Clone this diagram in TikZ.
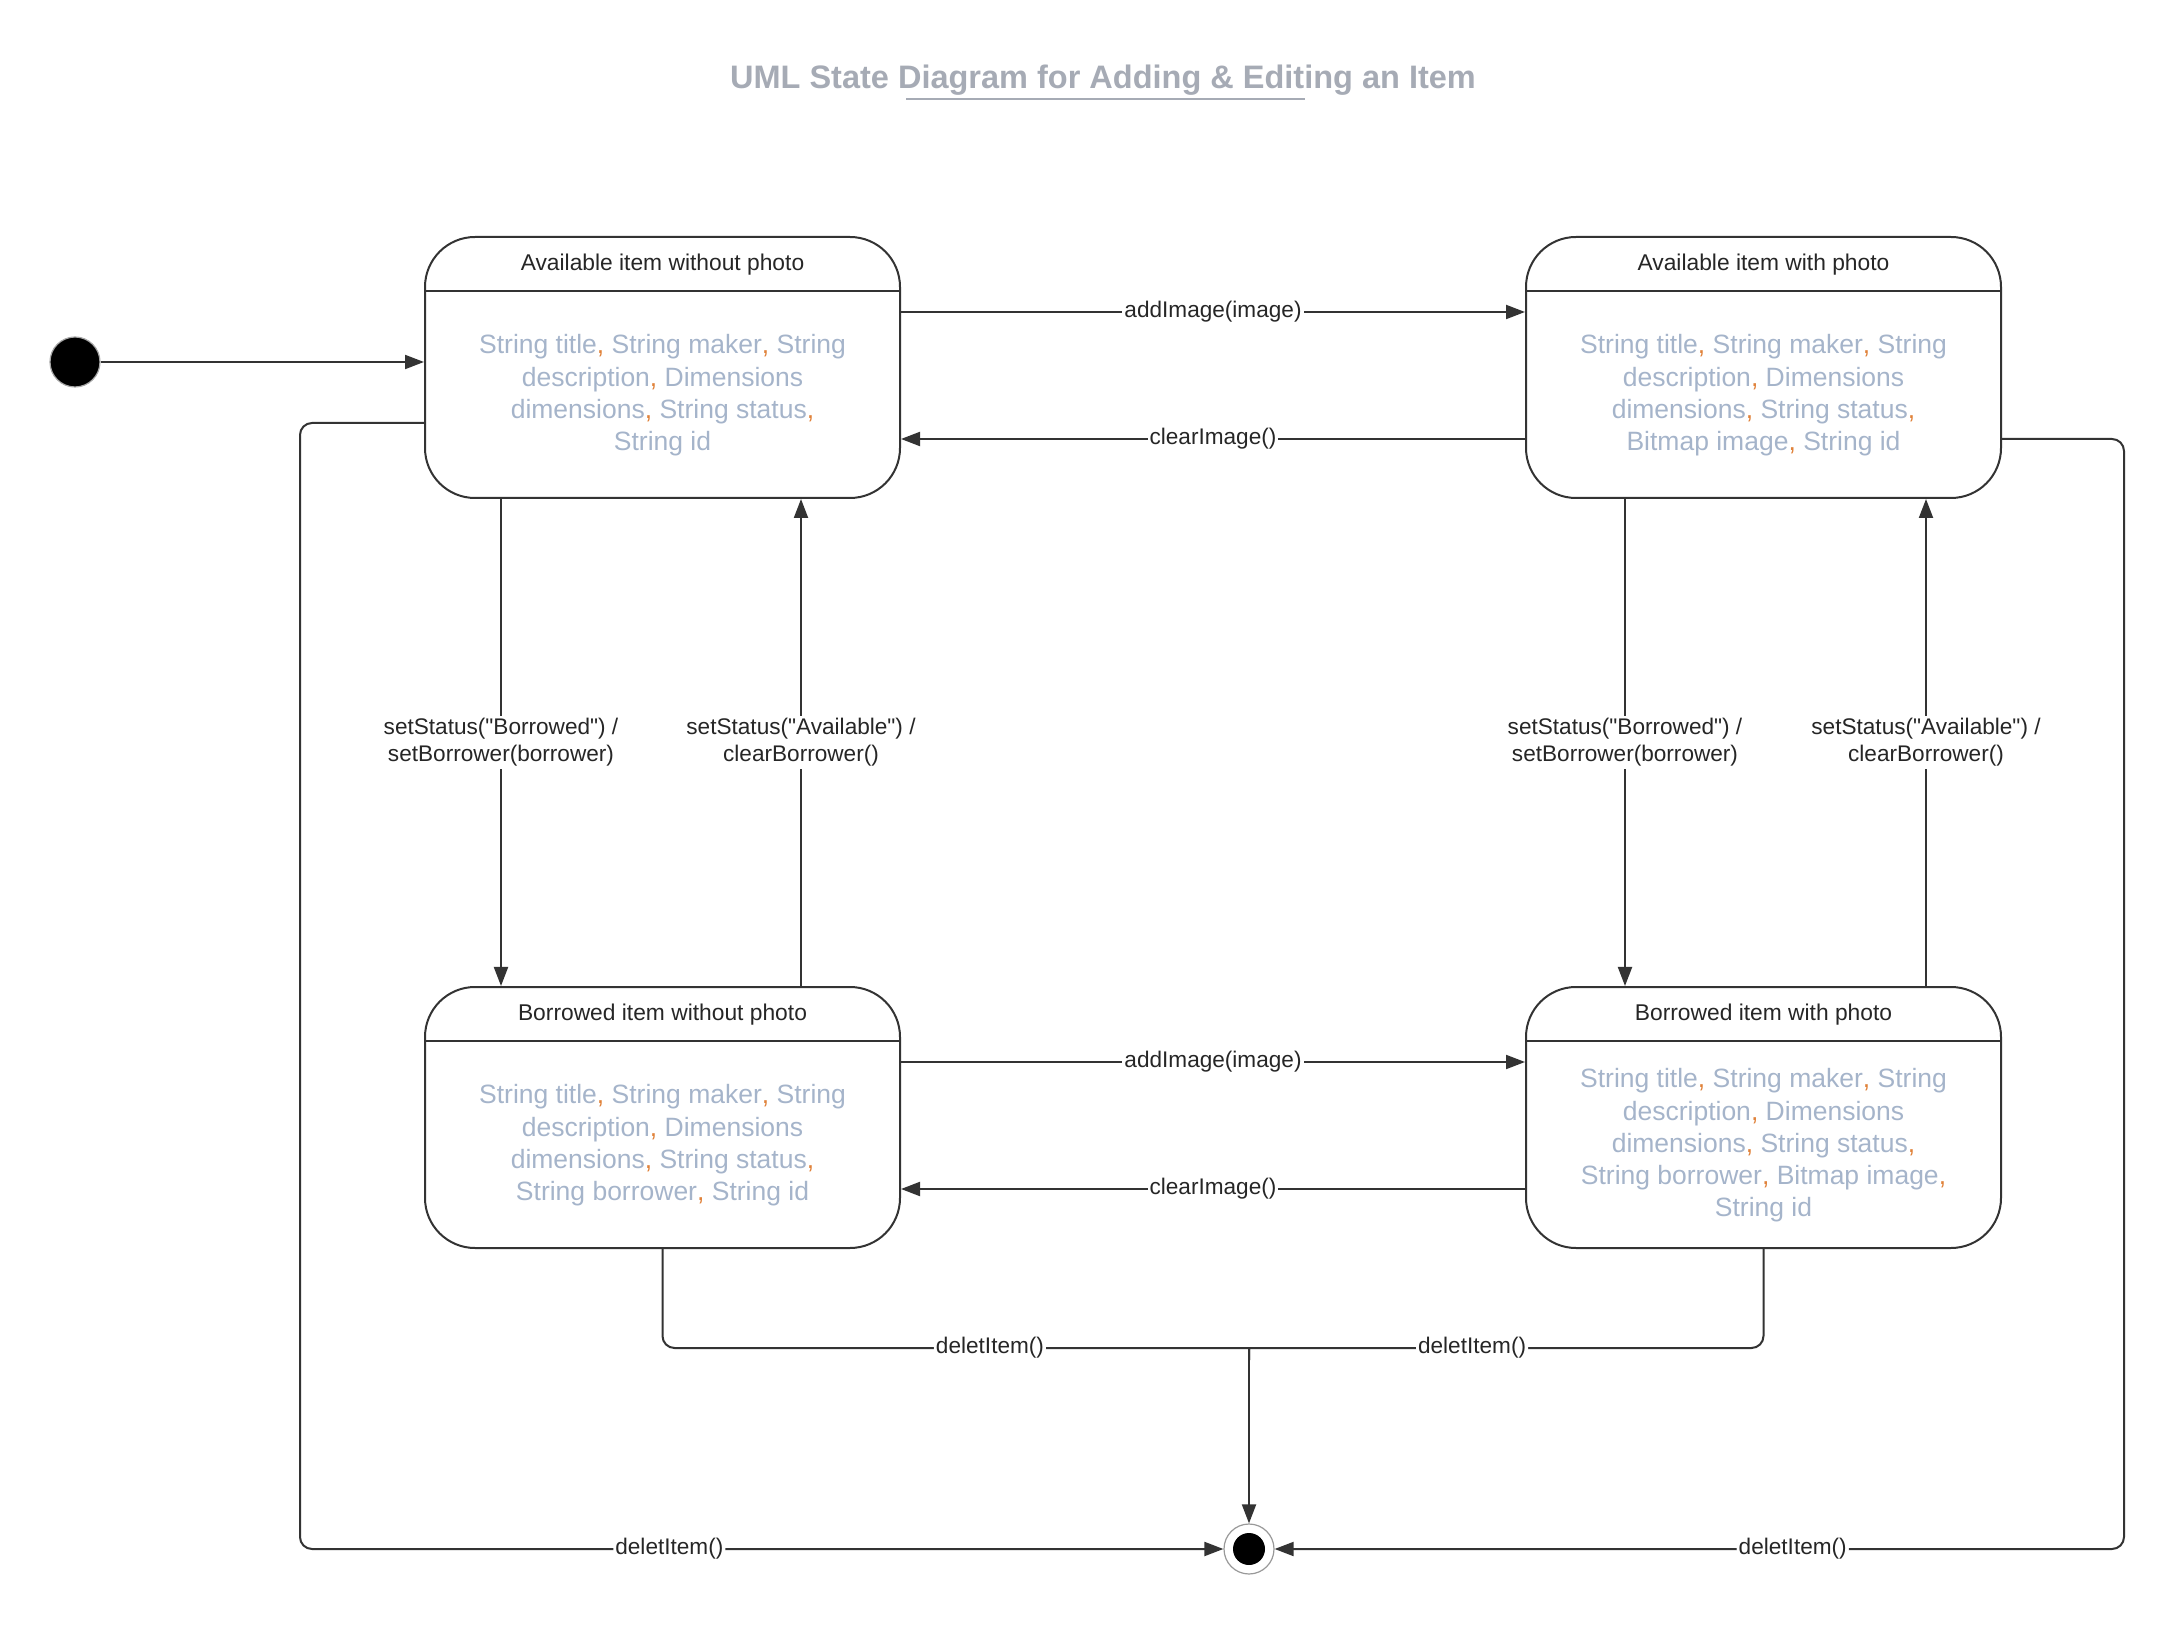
\documentclass[tikz,border=0pt]{standalone}
\usepackage{fontspec}
\setmainfont{Liberation Sans}[Ligatures=TeXOff]
\usetikzlibrary{arrows.meta}

\definecolor{linegray}{HTML}{333333}
\definecolor{attrblue}{HTML}{A5B4CA}
\definecolor{commaorange}{HTML}{E0823A}
\definecolor{titlegray}{HTML}{A6ABB5}
\newcommand{\cm}{\textcolor{commaorange}{,}}

\tikzset{
  state/.style={draw=linegray, line width=1pt, rounded corners=25pt,
    minimum width=237.5pt, minimum height=130.5pt, inner sep=0pt},
  head/.style={font=\fontsize{11.4pt}{13.5pt}\selectfont, text=black!85},
  attrs/.style={font=\fontsize{13.25pt}{16.15pt}\selectfont, text=attrblue, align=center},
  lbl/.style={font=\fontsize{11.3pt}{13.5pt}\selectfont, text=black!85,
    fill=white, inner sep=1pt, align=center},
  plain/.style={draw=linegray, line width=1pt},
  trans/.style={plain, -{Triangle[length=9.5pt,width=7pt]}},
  initst/.style={circle, fill=black, draw=gray!70, line width=0.6pt,
    minimum size=25pt, inner sep=0pt},
  finst/.style={circle, fill=white, draw=gray!80, line width=0.6pt,
    minimum size=25pt, inner sep=0pt,
    path picture={\fill[black] (path picture bounding box.center) circle (8pt);}},
}

\begin{document}
\begin{tikzpicture}[x=0.5pt,y=-0.5pt]
  \useasboundingbox (0,0) rectangle (2175,1625);

  % title
  \node[font=\bfseries\fontsize{16.25pt}{19pt}\selectfont, text=titlegray] (ttl) at (1103,80)
    {UML State Diagram for Adding \& Editing an Item};
  \draw[titlegray, line width=1.2pt] (906,99) -- (1305,99);

  % states
  \node[state] (aw) at (662.5,367.5) {};
  \node[state] (ap) at (1763.5,367.5) {};
  \node[state] (bw) at (662.5,1117.5) {};
  \node[state] (bp) at (1763.5,1117.5) {};

  \foreach \s/\t in {aw/Available item without photo, ap/Available item with photo,
                     bw/Borrowed item without photo, bp/Borrowed item with photo} {
    \draw[plain] ([yshift=-27.5pt]\s.north west) -- ([yshift=-27.5pt]\s.north east);
    \node[head] at ([yshift=51.25pt]\s.center) {\t};
  }

  \node[attrs] at ([yshift=-14pt]aw.center) {String title\cm{} String maker\cm{} String\\
    description\cm{} Dimensions\\ dimensions\cm{} String status\cm\\ String id};
  \node[attrs] at ([yshift=-14pt]ap.center) {String title\cm{} String maker\cm{} String\\
    description\cm{} Dimensions\\ dimensions\cm{} String status\cm\\ Bitmap image\cm{} String id};
  \node[attrs] at ([yshift=-14pt]bw.center) {String title\cm{} String maker\cm{} String\\
    description\cm{} Dimensions\\ dimensions\cm{} String status\cm\\ String borrower\cm{} String id};
  \node[attrs] at ([yshift=-14pt]bp.center) {String title\cm{} String maker\cm{} String\\
    description\cm{} Dimensions\\ dimensions\cm{} String status\cm\\
    String borrower\cm{} Bitmap image\cm\\ String id};

  % initial and final states
  \node[initst] (init) at (75,362) {};
  \node[finst] (fin) at (1249,1549) {};
  \coordinate (jn) at (1249,1348);

  \draw[trans] (init) -- (init -| aw.west);

  % photo transitions
  \draw[trans] (aw.east |- 0,312) -- node[lbl] {addImage(image)} (ap.west |- 0,312);
  \draw[trans] (ap.west |- 0,439) -- node[lbl] {clearImage()} (aw.east |- 0,439);
  \draw[trans] (bw.east |- 0,1062) -- node[lbl] {addImage(image)} (bp.west |- 0,1062);
  \draw[trans] (bp.west |- 0,1189) -- node[lbl] {clearImage()} (bw.east |- 0,1189);

  % status transitions
  \foreach \a/\b/\xd/\xu in {aw/bw/501/801, ap/bp/1625/1926} {
    \draw[trans] (\a.south -| \xd,0) -- node[lbl] {setStatus("Borrowed") /\\setBorrower(borrower)} (\b.north -| \xd,0);
    \draw[trans] (\b.north -| \xu,0) -- node[lbl] {setStatus("Available") /\\clearBorrower()} (\a.south -| \xu,0);
  }

  % delete transitions
  \draw[plain, rounded corners=6pt] (bw.south) |- node[lbl, pos=0.785] {deletItem()} ([xshift=-6pt]jn)
    [sharp corners] .. controls (jn) .. ([yshift=-6pt]jn);
  \draw[plain, rounded corners=6pt] (bp.south) |- node[lbl, pos=0.79] {deletItem()} ([xshift=6pt]jn)
    [sharp corners] .. controls (jn) .. ([yshift=-6pt]jn);
  \draw[trans] ([yshift=-6pt]jn) -- (fin);

  \draw[trans, rounded corners=6pt] (aw.west |- 0,423) -| (fin -| 300,0)
    -- node[lbl, pos=0.40] {deletItem()} (fin.west);
  \draw[trans, rounded corners=6pt] (ap.east |- 0,439) -| (fin -| 2124,0)
    -- node[lbl, pos=0.39] {deletItem()} (fin.east);

\end{tikzpicture}
\end{document}
